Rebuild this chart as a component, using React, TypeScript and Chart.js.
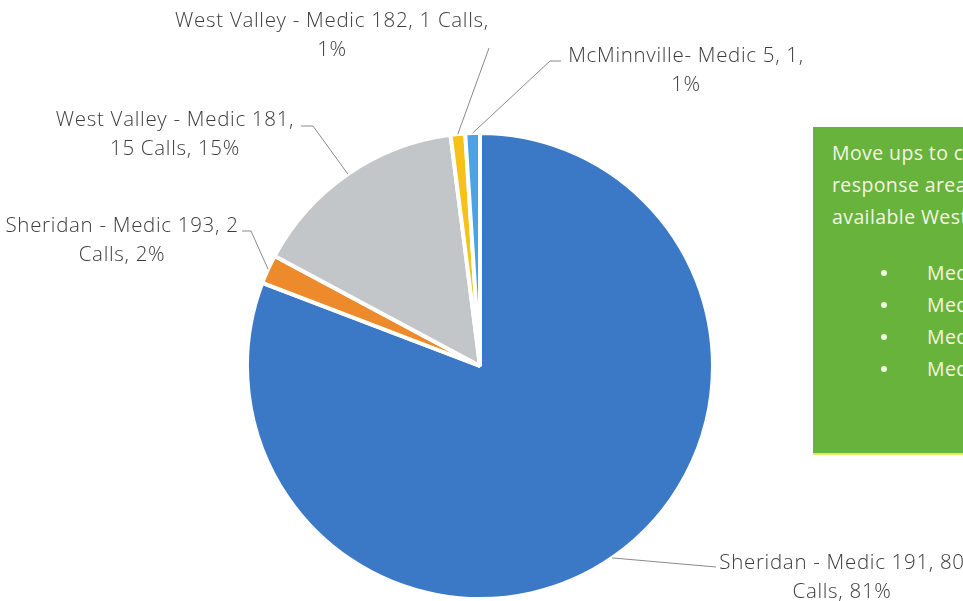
import React, { useEffect, useRef } from 'react';
import { Chart, registerables } from 'chart.js';

Chart.register(...registerables);

// ---- data ----
const categories = [
  'Sheridan - Medic 191',
  'Sheridan - Medic 193',
  'West Valley - Medic 181',
  'West Valley - Medic 182',
  'McMinnville- Medic 5',
];
const calls = [80, 2, 15, 1, 1];
const callUnits = [' Calls', ' Calls', ' Calls', ' Calls', ''];
const sliceColors = ['#3b79c7', '#ec8a2c', '#c3c6c9', '#f6c21a', '#4aa3e6'];

// words after which each data label wraps to a second line
const wrapAfterWords = [5, 5, 5, 7, 4];

// ---- label layout (text centre, first line y, leader start & optional elbow) ----
const labelLayout = [
  { x: 842, y: 563, anchor: [716, 567], elbow: null as number[] | null },
  { x: 122, y: 226, anchor: [242, 231], elbow: [251, 231] },
  { x: 175, y: 120, anchor: [301, 126], elbow: [313, 126] },
  { x: 332, y: 21, anchor: [489, 48], elbow: null },
  { x: 686, y: 56, anchor: [561, 61], elbow: [550, 61] },
];

const noteLines = ['Move ups to cover Sheridan', 'response area were made with', 'available West Valley units:'];
const noteBullets = ['Medic 181', 'Medic 182', 'Medic 5', 'Medic 193'];

const LABEL_FONT = '300 20.5px "Open Sans", Lato, sans-serif';

function buildLabelLines(i: number, total: number): string[] {
  const pct = Math.round((calls[i] / total) * 100);
  const text = `${categories[i]}, ${calls[i]}${callUnits[i]}, ${pct}%`;
  const words = text.split(' ');
  const n = wrapAfterWords[i];
  return [words.slice(0, n).join(' '), words.slice(n).join(' ')].filter((s) => s.length);
}

const calloutPlugin = {
  id: 'callouts',
  afterDatasetsDraw(chart: any) {
    const ctx = chart.ctx as CanvasRenderingContext2D;
    const meta = chart.getDatasetMeta(0);
    const total = calls.reduce((a, b) => a + b, 0);
    ctx.save();
    meta.data.forEach((arc: any, i: number) => {
      const p = arc.getProps(['x', 'y', 'startAngle', 'endAngle', 'outerRadius'], true);
      const mid = (p.startAngle + p.endAngle) / 2;
      const r = p.outerRadius;
      const ex = p.x + Math.cos(mid) * r;
      const ey = p.y + Math.sin(mid) * r;
      const L = labelLayout[i];
      ctx.strokeStyle = '#8a8a8a';
      ctx.lineWidth = 1;
      ctx.beginPath();
      ctx.moveTo(L.anchor[0], L.anchor[1]);
      if (L.elbow) ctx.lineTo(L.elbow[0], L.elbow[1]);
      ctx.lineTo(ex, ey);
      ctx.stroke();
      ctx.fillStyle = '#3c3c3c';
      ctx.font = LABEL_FONT;
      (ctx as any).letterSpacing = '0.7px';
      ctx.textAlign = 'center';
      ctx.textBaseline = 'middle';
      buildLabelLines(i, total).forEach((line, k) => {
        ctx.fillText(line, L.x, L.y + k * 29);
      });
    });
    ctx.restore();
  },
};

export default function App() {
  const canvasRef = useRef<HTMLCanvasElement | null>(null);

  useEffect(() => {
    if (!canvasRef.current) return;
    const chart = new Chart(canvasRef.current, {
      type: 'pie',
      data: {
        labels: categories,
        datasets: [
          {
            data: calls,
            backgroundColor: sliceColors,
            borderColor: '#ffffff',
            borderWidth: 4,
          },
        ],
      },
      options: {
        responsive: false,
        animation: false,
        layout: { padding: { left: 245, right: 248, top: 131, bottom: 0 } },
        plugins: {
          legend: { display: false },
          tooltip: { enabled: false },
        },
      },
      plugins: [calloutPlugin],
    });
    return () => chart.destroy();
  }, []);

  return (
    <div
      style={{
        position: 'fixed',
        left: 0,
        top: 0,
        width: 963,
        height: 601,
        overflow: 'hidden',
        background: '#ffffff',
      }}
    >
      <canvas ref={canvasRef} width={963} height={601} style={{ position: 'absolute', left: 0, top: 0 }} />
      <div
        style={{
          position: 'absolute',
          left: 813,
          top: 127,
          width: 260,
          height: 326,
          background: '#67b33b',
          borderBottom: '2px solid #e8e860',
          color: '#f5f5e4',
          font: '400 19.5px "Open Sans", Lato, sans-serif',
          letterSpacing: '0.4px',
          whiteSpace: 'nowrap',
        }}
      >
        {noteLines.map((t, i) => (
          <div key={t} style={{ position: 'absolute', left: 19, top: 10 + i * 32, lineHeight: '32px' }}>
            {t}
          </div>
        ))}
        {noteBullets.map((t, i) => (
          <div key={t} style={{ position: 'absolute', left: 0, top: 130 + i * 32, lineHeight: '32px', height: 32 }}>
            <span
              style={{
                position: 'absolute',
                left: 68,
                top: 13,
                width: 6,
                height: 6,
                borderRadius: 3,
                background: '#f5f5e4',
              }}
            />
            <span style={{ position: 'absolute', left: 114 }}>{t}</span>
          </div>
        ))}
      </div>
    </div>
  );
}
